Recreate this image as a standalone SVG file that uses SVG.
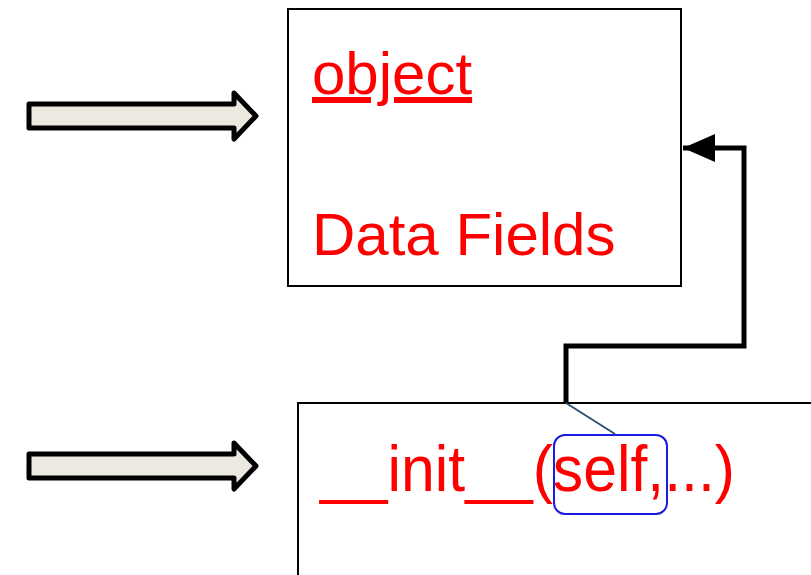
<svg xmlns="http://www.w3.org/2000/svg" width="811" height="575" viewBox="0 0 811 575">
  <style>
    .box { fill: #ffffff; stroke: #000000; stroke-width: 2; }
    .label { font-family: "Liberation Sans", Arial, sans-serif; font-size: 60px; fill: #ff0000; }
    .block-arrow { fill: #ebe9e0; stroke: #000000; stroke-width: 5; stroke-linejoin: round; }
    .link { fill: none; stroke: #000000; stroke-width: 5; stroke-linejoin: miter; }
  </style>
  <defs>
    <marker id="arrowhead" markerUnits="userSpaceOnUse" markerWidth="34" markerHeight="30" refX="32" refY="14" orient="auto">
      <path d="M0,0 L32,14 L0,28 Z" fill="#000000"/>
    </marker>
  </defs>

  <rect width="811" height="575" fill="#ffffff"/>

  <!-- pointer arrows on the left -->
  <g id="pointer-object">
    <path class="block-arrow" d="M29,104 L234,104 L234,93 L256,116 L234,139 L234,128 L29,128 Z"/>
  </g>
  <g id="pointer-init">
    <path class="block-arrow" d="M29,454 L234,454 L234,443 L256,466 L234,489 L234,478 L29,478 Z"/>
  </g>

  <!-- object box -->
  <g id="object-node">
    <rect class="box" x="288" y="9" width="393" height="277"/>
    <text class="label" x="312" y="94" text-decoration="underline">object</text>
    <text class="label" x="312" y="255">Data Fields</text>
  </g>

  <!-- constructor box -->
  <g id="init-node">
    <rect class="box" x="298" y="403" width="530" height="200"/>
    <text class="label" transform="translate(320,491) scale(1.012,1.08)">__init__(self,...)</text>
    <rect x="554" y="435" width="113" height="79" rx="11" ry="11" fill="none" stroke="#1a1ae6" stroke-width="2"/>
  </g>

  <!-- connectors -->
  <g id="connectors">
    <path class="link" d="M566,403 L566,346 L744,346 L744,148 L683,148" marker-end="url(#arrowhead)"/>
    <line x1="566" y1="403" x2="615" y2="434" stroke="#2f4f6f" stroke-width="2"/>
  </g>
</svg>
